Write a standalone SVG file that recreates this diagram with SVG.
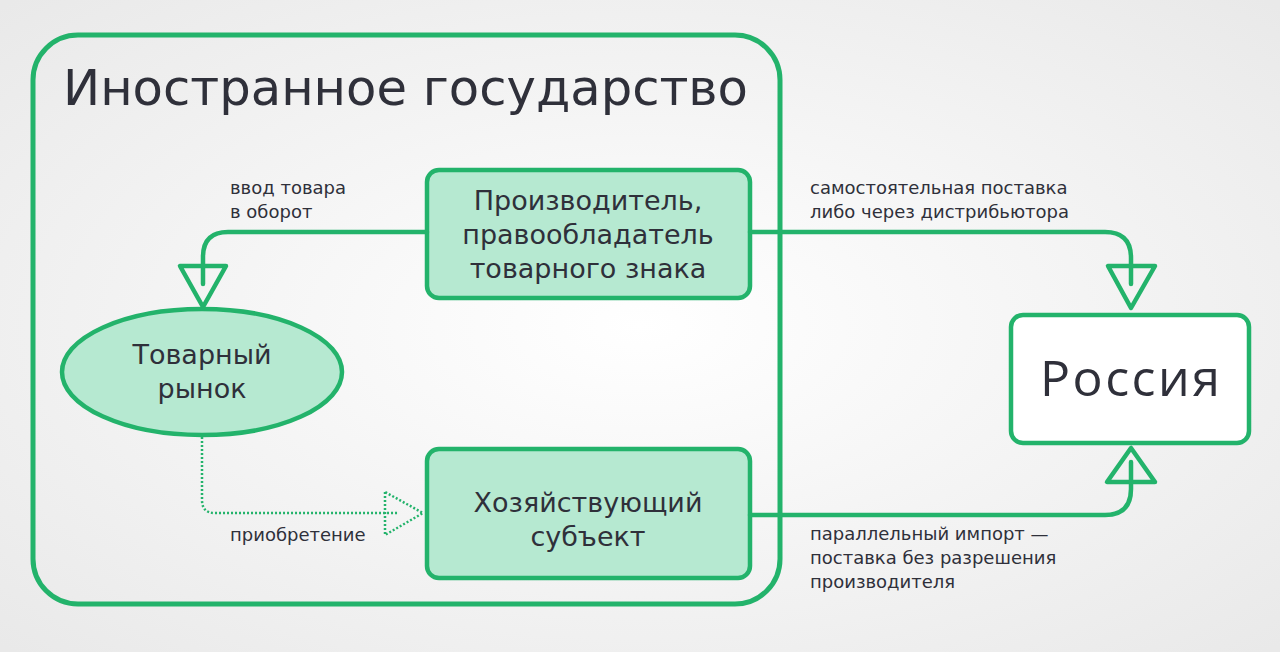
<svg xmlns="http://www.w3.org/2000/svg" width="1280" height="652" viewBox="0 0 1280 652">
<defs>
<radialGradient id="bg" cx="50%" cy="50%" r="70%">
<stop offset="0" stop-color="#ffffff"/>
<stop offset="1" stop-color="#e9e9e9"/>
</radialGradient>
<style>
.frame{fill:none;stroke:#23b36b;stroke-width:5}
.box{fill:#b6e9d1;stroke:#23b36b;stroke-width:4.5}
.wbox{fill:#ffffff;stroke:#23b36b;stroke-width:4.5}
.ln{fill:none;stroke:#23b36b;stroke-width:4.5;stroke-linejoin:round;stroke-linecap:round}
.dot{fill:none;stroke:#23b36b;stroke-width:2.5;stroke-dasharray:2 2}
.t{font-family:"DejaVu Sans","Open Sans",sans-serif;fill:#2f303a}
.nt{font-size:27px;text-anchor:middle}
.lb{font-size:18px}
</style>
</defs>
<rect width="1280" height="652" fill="url(#bg)"/>
<g id="foreign">
<rect class="frame" x="33" y="35" width="747" height="569" rx="45"/>
<text class="t" x="63" y="105" font-size="49" textLength="685" lengthAdjust="spacingAndGlyphs">Иностранное государство</text>
</g>
<g id="producer">
<rect class="box" x="427" y="170" width="323" height="128" rx="12"/>
<text class="t nt" x="588" y="210">Производитель,</text>
<text class="t nt" x="588" y="244">правообладатель</text>
<text class="t nt" x="588" y="278">товарного знака</text>
</g>
<g id="market">
<ellipse class="box" cx="202" cy="372" rx="140" ry="63"/>
<text class="t nt" x="202" y="364">Товарный</text>
<text class="t nt" x="202" y="398">рынок</text>
</g>
<g id="entity">
<rect class="box" x="427" y="449" width="323" height="129" rx="12"/>
<text class="t nt" x="588" y="512">Хозяйствующий</text>
<text class="t nt" x="588" y="546">субъект</text>
</g>
<g id="russia">
<rect class="wbox" x="1011" y="315" width="238" height="128" rx="12"/>
<text class="t" x="1130" y="396" font-size="50" text-anchor="middle" style="font-family:'Open Sans','DejaVu Sans',sans-serif" textLength="180">Россия</text>
</g>
<g id="connectors">
<path class="ln" d="M427,232 H228 Q203,232 203,257 V284"/>
<path class="ln" d="M180,266 H226 L203,307 Z"/>
<path class="ln" d="M750,232 H1105 Q1131,232 1131,258 V284"/>
<path class="ln" d="M1108,266 H1155 L1131,308 Z"/>
<path class="ln" d="M750,515 H1105 Q1131,515 1131,489 V462"/>
<path class="ln" d="M1107,482 H1155 L1131,448 Z"/>
<path class="dot" d="M202,437 V500 Q202,513 215,513 H398"/>
<path class="dot" d="M385,492 V535 L423,513 Z"/>
</g>
<g id="labels">
<text class="t lb" x="230" y="194">ввод товара</text>
<text class="t lb" x="230" y="218">в оборот</text>
<text class="t lb" x="810" y="194">самостоятельная поставка</text>
<text class="t lb" x="810" y="218">либо через дистрибьютора</text>
<text class="t lb" x="230" y="541">приобретение</text>
<text class="t lb" x="810" y="540">параллельный импорт —</text>
<text class="t lb" x="810" y="564">поставка без разрешения</text>
<text class="t lb" x="810" y="588">производителя</text>
</g>
</svg>
